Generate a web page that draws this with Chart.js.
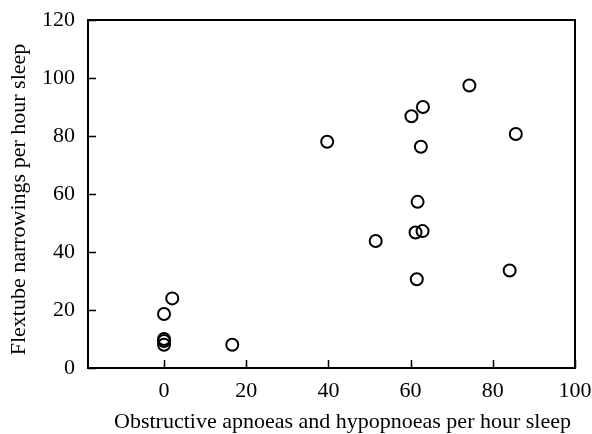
<!DOCTYPE html>
<html>
<head>
<meta charset="utf-8">
<script src="https://cdn.jsdelivr.net/npm/chart.js@4/dist/chart.umd.min.js"></script>
<style>
html,body{margin:0;padding:0;background:#fff;}
#wrap{width:592px;height:434px;position:relative;}
</style>
</head>
<body>
<div id="wrap"><canvas id="c" width="592" height="434"></canvas></div>
<script>
const xValues = [2, 0, 0, 0, 0, 16.6, 39.7, 51.5, 60.2, 63, 74.3, 85.6, 62.5, 61.7, 62.9, 61.2, 84.1, 61.5];
const yValues = [24, 18.6, 10, 9.3, 8, 8, 78, 43.8, 86.8, 90, 97.4, 80.7, 76.3, 57.3, 47.2, 46.7, 33.6, 30.6];
const xTicks = [0, 20, 40, 60, 80, 100];
const yTicks = [0, 20, 40, 60, 80, 100, 120];
const xTitle = 'Obstructive apnoeas and hypopnoeas per hour sleep';
const yTitle = 'Flextube narrowings per hour sleep';

const points = xValues.map((x, i) => ({x: x, y: yValues[i]}));
const font = {family: '"Liberation Serif", "Times New Roman", serif', size: 22};
const NB = '\u00A0';

const framePlugin = {
  id: 'frame',
  afterDatasetsDraw(chart) {
    const {ctx, chartArea: a, scales} = chart;
    ctx.save();
    ctx.strokeStyle = '#000';
    ctx.lineWidth = 2;
    ctx.strokeRect(a.left, a.top, a.right - a.left, a.bottom - a.top);
    ctx.lineWidth = 1.5;
    ctx.beginPath();
    xTicks.forEach(v => {
      const px = Math.round(scales.x.getPixelForValue(v)) + 0.5;
      ctx.moveTo(px, a.bottom);
      ctx.lineTo(px, a.bottom - 8);
    });
    yTicks.forEach(v => {
      const py = Math.round(scales.y.getPixelForValue(v)) + 0.5;
      ctx.moveTo(a.left, py);
      ctx.lineTo(a.left + 8, py);
    });
    ctx.stroke();
    ctx.restore();
  }
};

function zeroPad(scale) {
  scale.paddingLeft = 0; scale.paddingRight = 0;
  scale.paddingTop = 0; scale.paddingBottom = 0;
}

new Chart(document.getElementById('c'), {
  type: 'scatter',
  data: {
    datasets: [{
      data: points,
      pointRadius: 6,
      pointHoverRadius: 6,
      pointBorderWidth: 2,
      pointBorderColor: '#000',
      pointBackgroundColor: 'rgba(255,255,255,0)'
    }]
  },
  options: {
    responsive: false,
    animation: false,
    layout: {padding: {left: 0, right: 17, top: 20, bottom: 0}},
    plugins: {legend: {display: false}, tooltip: {enabled: false}},
    scales: {
      x: {
        type: 'linear',
        min: -18.5,
        max: 100,
        afterBuildTicks(scale) { scale.ticks = xTicks.map(v => ({value: v})); },
        afterFit(scale) { scale.height = 66; zeroPad(scale); },
        grid: {display: false, drawTicks: false},
        border: {display: false},
        ticks: {color: '#000', font: font, padding: 10, maxRotation: 0},
        title: {display: true, text: NB.repeat(4) + xTitle, color: '#000', font: font, padding: {top: 0, bottom: -1.5}}
      },
      y: {
        type: 'linear',
        min: 0,
        max: 120,
        afterBuildTicks(scale) { scale.ticks = yTicks.map(v => ({value: v})); },
        afterFit(scale) { scale.width = 88; zeroPad(scale); },
        grid: {display: false, drawTicks: false},
        border: {display: false},
        ticks: {color: '#000', font: font, padding: 13},
        title: {display: true, text: yTitle + NB.repeat(2), color: '#000', font: font, padding: {top: 6, bottom: 0}}
      }
    }
  },
  plugins: [framePlugin]
});
</script>
</body>
</html>
